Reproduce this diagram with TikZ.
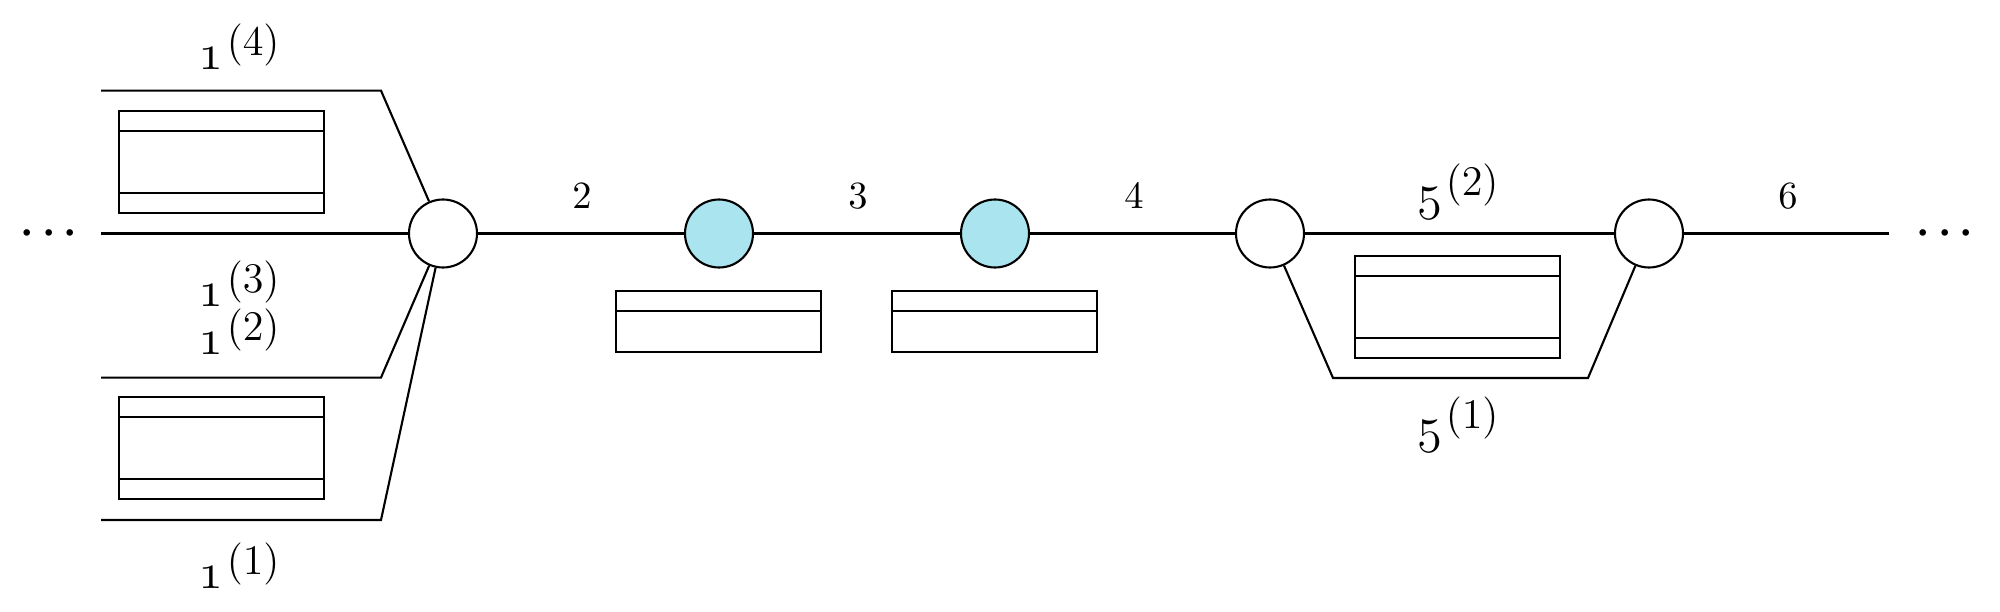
\documentclass[tikz,border=0pt]{standalone}
\usetikzlibrary{positioning}
\definecolor{busy}{RGB}{170,228,238}
\begin{document}
\begin{tikzpicture}[line width=0.6pt,
  station/.style={draw,circle,minimum size=0.68cm,inner sep=0pt},
  lbl/.style={inner sep=1pt,font=\fontsize{11}{13}\selectfont},
  dots/.style={font=\large\boldmath}]
  \useasboundingbox (0,0) rectangle (20,-6.12);
  \def\m{-2.335}   % main line
  \def\bw{2.05}    % buffer width
  \def\sub#1#2{{\fontsize{14.5}{16}\selectfont$\mathnormal{#1}$}\kern1pt\raisebox{4pt}{\fontsize{12.5}{14}\selectfont$(#2)$}}
  % stations
  \node[station] (j1) at (4.43,\m) {};
  \node[station,fill=busy] (q2) at (7.19,\m) {};
  \node[station,fill=busy] (q3) at (9.95,\m) {};
  \node[station] (j4) at (12.70,\m) {};
  \node[station] (j5) at (16.49,\m) {};
  % ends of the lines
  \coordinate (a4) at (1.01,-0.906);  \coordinate (b4) at (3.81,-0.906);
  \coordinate (a3) at (1.01,\m);
  \coordinate (a2) at (1.01,-3.776);  \coordinate (b2) at (3.81,-3.776);
  \coordinate (a1) at (1.01,-5.20);   \coordinate (b1) at (3.81,-5.20);
  \coordinate (c1) at (13.33,-3.78);  \coordinate (c2) at (15.88,-3.78);
  \coordinate (out) at (18.89,\m);
  \draw (a4) -- (b4) -- (j1);
  \draw (a3) -- (j1);
  \draw (a2) -- (b2) -- (j1);
  \draw (a1) -- (b1) -- (j1);
  \draw (j1) -- (q2) -- (q3) -- (j4) -- (j5) -- (out);
  \draw (j4) -- (c1) -- (c2) -- (j5);
  % buffers
  \foreach \x/\y in {1.19/-1.11, 1.19/-3.97, 13.55/-2.56} {
    \draw (\x,\y) rectangle +(\bw,-1.02);
    \draw (\x,\y-0.2) -- +(\bw,0);
    \draw (\x,\y-0.82) -- +(\bw,0);
  }
  \foreach \x in {6.16,8.92} {
    \draw (\x,-2.91) rectangle +(\bw,-0.61);
    \draw (\x,-3.11) -- +(\bw,0);
  }
  % labels
  \node[lbl] (l14) at (2.39,-0.465) {\sub{1}{4}};
  \node[lbl] (l13) at (2.39,-2.84) {\sub{1}{3}};
  \node[lbl] (l12) at (2.39,-3.32) {\sub{1}{2}};
  \node[lbl] (l11) at (2.39,-5.66) {\sub{1}{1}};
  \node[lbl] (l2) at (5.82,-1.96) {$2$};
  \node[lbl] (l3) at (8.58,-1.96) {$3$};
  \node[lbl] (l4) at (11.34,-1.96) {$4$};
  \node[lbl] (l52) at (14.58,-1.92) {\sub{5}{2}};
  \node[lbl] (l6) at (17.88,-1.96) {$6$};
  \node[lbl] (l51) at (14.58,-4.25) {\sub{5}{1}};
  \node[dots] (dl) at (0.49,\m) {$\cdots$};
  \node[dots] (dr) at (19.45,\m) {$\cdots$};
\end{tikzpicture}
\end{document}
